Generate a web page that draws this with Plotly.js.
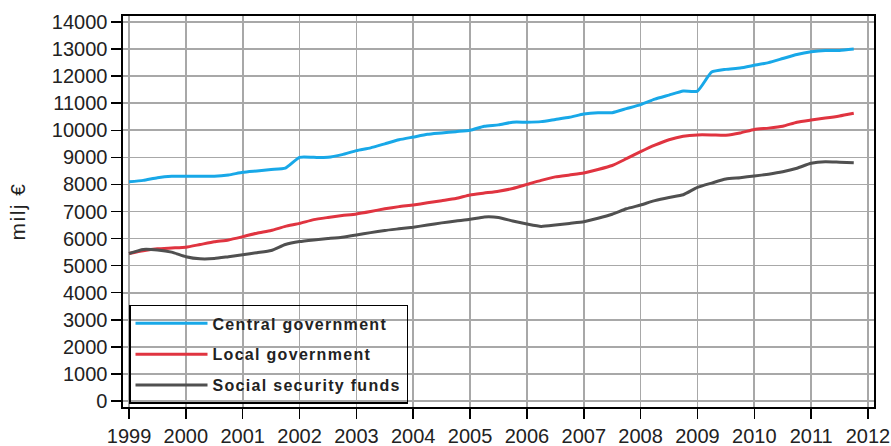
<!DOCTYPE html>
<html>
<head>
<meta charset="utf-8">
<script src="https://cdn.plot.ly/plotly-3.0.1.min.js"></script>
<style>
html, body { margin: 0; padding: 0; background: #fff; }
#chart { width: 891px; height: 446px; }
.legendtext { letter-spacing: 1.3px; }
.ytitle { letter-spacing: 1.5px; }
</style>
</head>
<body>
<div id="chart"></div>
<script>
// Quarterly periods 1999Q1 .. 2011Q4
const years = [1999,2000,2001,2002,2003,2004,2005,2006,2007,2008,2009,2010,2011];
const quarters = [0, 0.25, 0.5, 0.75];
const seriesNames = ['Central government', 'Local government', 'Social security funds'];

const central = [
  8100, 8150, 8250, 8300,
  8300, 8300, 8300, 8350,
  8450, 8500, 8550, 8600,
  9000, 9000, 9000, 9100,
  9250, 9350, 9500, 9650,
  9750, 9850, 9900, 9950,
  10000, 10150, 10200, 10300,
  10300, 10320, 10400, 10480,
  10600, 10650, 10650, 10800,
  10950, 11150, 11300, 11450,
  11450, 12150, 12250, 12300,
  12400, 12500, 12650, 12800,
  12900, 12950, 12950, 13000
];
const local = [
  5450, 5550, 5620, 5650,
  5680, 5780, 5880, 5950,
  6070, 6200, 6300, 6450,
  6560, 6700, 6780, 6850,
  6910, 7000, 7100, 7180,
  7240, 7320, 7400, 7480,
  7610, 7680, 7750, 7850,
  8000, 8150, 8280, 8350,
  8420, 8550, 8700, 8950,
  9210, 9450, 9650, 9780,
  9830, 9830, 9820, 9900,
  10030, 10080, 10150, 10300,
  10380, 10450, 10530, 10630
];
const social = [
  5450, 5600, 5580, 5500,
  5330, 5250, 5260, 5330,
  5400, 5480, 5560, 5780,
  5890, 5950, 6000, 6050,
  6130, 6220, 6300, 6360,
  6420, 6500, 6580, 6650,
  6710, 6800, 6780, 6650,
  6540, 6450, 6500, 6560,
  6620, 6750, 6900, 7100,
  7240, 7400, 7520, 7620,
  7890, 8050, 8200, 8250,
  8310, 8380, 8470, 8600,
  8780, 8840, 8820, 8800
];
const xTicks = [1999,2000,2001,2002,2003,2004,2005,2006,2007,2008,2009,2010,2011,2012];
const yTicks = [0,1000,2000,3000,4000,5000,6000,7000,8000,9000,10000,11000,12000,13000,14000];

const xs = [];
years.forEach(y => quarters.forEach(q => xs.push(y + q)));

const colors = ['#18a8e8', '#e03440', '#505050'];
const values = [central, local, social];

const traces = values.map((v, i) => ({
  type: 'scatter',
  mode: 'lines',
  x: xs,
  y: v,
  name: seriesNames[i],
  legendgroup: 'g' + i,
  line: { color: colors[i], width: 3, shape: 'spline', smoothing: 0.5 },
  hoverinfo: 'x+y'
}));

const font = 'Liberation Sans, Arial, sans-serif';

const layout = {
  width: 891,
  height: 446,
  margin: { l: 123, r: 17, t: 16, b: 39, pad: 0 },
  paper_bgcolor: '#ffffff',
  plot_bgcolor: '#ffffff',
  showlegend: true,
  font: { family: font, color: '#222222', size: 20 },
  xaxis: {
    range: [1998.894, 2012.106],
    tickmode: 'array',
    tickvals: xTicks,
    ticktext: xTicks.map(String),
    showgrid: true,
    gridcolor: '#a8a8a8',
    gridwidth: 1.6,
    zeroline: false,
    showline: true,
    linecolor: '#000000',
    linewidth: 1.6,
    mirror: true,
    ticks: 'outside',
    ticklen: 10,
    tickwidth: 1.5,
    tickcolor: '#000000',
    tickfont: { family: font, size: 20, color: '#222222' }
  },
  yaxis: {
    range: [-222, 14222],
    tickmode: 'array',
    tickvals: yTicks,
    ticktext: yTicks.map(String),
    showgrid: true,
    gridcolor: '#a8a8a8',
    gridwidth: 1.6,
    zeroline: false,
    showline: true,
    linecolor: '#000000',
    linewidth: 1.6,
    mirror: true,
    ticks: 'outside',
    ticklen: 10,
    tickwidth: 1.5,
    tickcolor: '#000000',
    tickfont: { family: font, size: 20, color: '#222222' },
    title: { text: 'milj €', font: { family: font, size: 21, color: '#222222' }, standoff: 20 }
  },
  legend: {
    x: 0.008,
    y: 0.261,
    xanchor: 'left',
    yanchor: 'top',
    bgcolor: 'rgba(0,0,0,0)',
    bordercolor: '#000000',
    borderwidth: 1.5,
    traceorder: 'grouped',
    tracegroupgap: 7,
    itemwidth: 72,
    font: { family: font, size: 16, color: '#222222', weight: 'bold' }
  }
};

Plotly.newPlot('chart', traces, layout, { displayModeBar: false, staticPlot: true });
</script>
</body>
</html>
